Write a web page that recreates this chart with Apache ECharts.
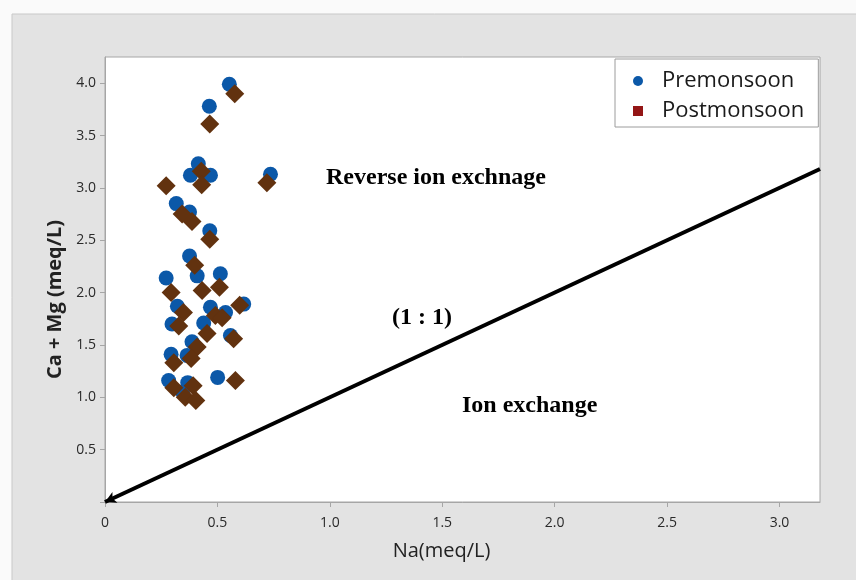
<!DOCTYPE html>
<html>
<head>
<meta charset="utf-8">
<title>Ca + Mg vs Na</title>
<script src="https://cdn.jsdelivr.net/npm/echarts@6/dist/echarts.min.js"></script>
<style>
  html, body { margin: 0; padding: 0; background: #fafafa; }
  #chart { width: 856px; height: 580px; }
</style>
</head>
<body>
<div id="chart"></div>
<script>
// Na (meq/L) and Ca + Mg (meq/L) per sample, premonsoon season
const preNa   = [0.553, 0.464, 0.415, 0.380, 0.469, 0.736, 0.317, 0.376, 0.466, 0.376,
                 0.410, 0.272, 0.513, 0.322, 0.469, 0.536, 0.617, 0.298, 0.439, 0.558,
                 0.387, 0.294, 0.365, 0.283, 0.368, 0.501, 0.345];
const preCaMg = [3.99, 3.78, 3.23, 3.12, 3.12, 3.13, 2.85, 2.77, 2.59, 2.35,
                 2.16, 2.14, 2.18, 1.87, 1.86, 1.81, 1.89, 1.70, 1.71, 1.59,
                 1.53, 1.41, 1.40, 1.16, 1.14, 1.19, 1.05];

// Same samples, postmonsoon season
const postNa   = [0.577, 0.466, 0.272, 0.428, 0.430, 0.720, 0.343, 0.387, 0.466, 0.399,
                  0.294, 0.432, 0.509, 0.349, 0.491, 0.521, 0.599, 0.328, 0.454, 0.572,
                  0.410, 0.306, 0.383, 0.306, 0.392, 0.357, 0.404, 0.580];
const postCaMg = [3.90, 3.61, 3.02, 3.16, 3.03, 3.05, 2.75, 2.68, 2.51, 2.26,
                  2.00, 2.02, 2.05, 1.81, 1.78, 1.76, 1.88, 1.68, 1.61, 1.56,
                  1.48, 1.33, 1.37, 1.09, 1.11, 1.00, 0.97, 1.16];

// Axis ranges and the 1:1 reference line
const xRange = [0, 3.18];
const yRange = [0, 4.25];
const tickStep = 0.5;
const oneToOne = [[0, 0], [3.18, 3.18]];

const seriesNames = ['Premonsoon', 'Postmonsoon'];

const zip = (xs, ys) => xs.map((x, i) => [x, ys[i]]);
const tickFmt = v => {
  if (Math.abs(v / tickStep - Math.round(v / tickStep)) > 1e-6) return '';
  return v === 0 ? '0' : v.toFixed(1);
};

const chart = echarts.init(document.getElementById('chart'), null, { renderer: 'canvas' });

const sans = "'Open Sans', 'Noto Sans', sans-serif";
const serif = "'Liberation Serif', 'DejaVu Serif', serif";
const tickFont = { fontFamily: sans, fontSize: 14, color: '#2a2a2a' };
const noteStyle = { fontFamily: serif, fontWeight: 'bold', fontSize: 24, fill: '#000', verticalAlign: 'middle' };

chart.setOption({
  backgroundColor: '#fafafa',
  animation: false,
  graphic: [
    { type: 'rect', z: -100, shape: { x: 12, y: 14, width: 860, height: 580 },
      style: { fill: '#e3e3e3', stroke: '#c9c9c9', lineWidth: 1 } },
    { type: 'text', z: 50, x: 326, y: 178, style: Object.assign({ text: 'Reverse ion exchnage' }, noteStyle) },
    { type: 'text', z: 50, x: 392, y: 318, style: Object.assign({ text: '(1 : 1)' }, noteStyle) },
    { type: 'text', z: 50, x: 462, y: 406, style: Object.assign({ text: 'Ion exchange' }, noteStyle) }
  ],
  grid: {
    left: 105, right: 36, top: 57, bottom: 78,
    show: true, backgroundColor: '#ffffff', borderColor: '#a6a6a6', borderWidth: 1
  },
  legend: {
    orient: 'vertical',
    left: 615, top: 59,
    padding: [11, 14, 5, 18],
    backgroundColor: '#ffffff',
    borderColor: '#9c9c9c',
    borderWidth: 1,
    itemWidth: 10, itemHeight: 10,
    itemGap: 8,
    textStyle: { fontFamily: sans, fontSize: 22, color: '#1a1a1a', padding: [0, 0, 0, 14] },
    data: [
      { name: seriesNames[0], icon: 'circle', itemStyle: { color: '#0b58a8' } },
      { name: seriesNames[1], icon: 'rect', itemStyle: { color: '#941616' } }
    ]
  },
  xAxis: {
    type: 'value',
    min: xRange[0], max: xRange[1], interval: tickStep,
    name: 'Na(meq/L)', nameLocation: 'middle', nameGap: 39,
    nameTextStyle: { fontFamily: sans, fontSize: 20, color: '#222', padding: [0, 42, 0, 0] },
    axisLine: { show: true, lineStyle: { color: '#a6a6a6', width: 1 } },
    axisTick: { show: true, inside: false, length: 5, lineStyle: { color: '#a6a6a6' } },
    axisLabel: Object.assign({ margin: 14, formatter: tickFmt, showMaxLabel: false }, tickFont),
    splitLine: { show: false }
  },
  yAxis: {
    type: 'value',
    min: yRange[0], max: yRange[1], interval: tickStep,
    name: 'Ca + Mg (meq/L)', nameLocation: 'middle', nameGap: 39,
    nameTextStyle: { fontFamily: sans, fontSize: 20, fontWeight: 'bold', color: '#222', padding: [0, 40, 0, 0] },
    axisLine: { show: true, lineStyle: { color: '#a6a6a6', width: 1 } },
    axisTick: { show: true, inside: false, length: 5, lineStyle: { color: '#a6a6a6' } },
    axisLabel: Object.assign({ margin: 9, showMaxLabel: false,
      formatter: v => (v === 0 ? '' : tickFmt(v)) }, tickFont),
    splitLine: { show: false }
  },
  series: [
    {
      type: 'line', name: 'ratio', data: [], silent: true, z: 3,
      markLine: {
        silent: true, animation: false,
        symbol: ['arrow', 'none'], symbolSize: [9, 11],
        label: { show: false },
        lineStyle: { color: '#000', width: 4, type: 'solid' },
        emphasis: { disabled: true },
        data: [[{ coord: oneToOne[0] }, { coord: oneToOne[1] }]]
      }
    },
    {
      type: 'scatter', name: seriesNames[0], z: 4,
      symbol: 'circle', symbolSize: 15,
      itemStyle: { color: '#0b58a8', opacity: 1 },
      data: zip(preNa, preCaMg)
    },
    {
      type: 'scatter', name: seriesNames[1], z: 5,
      symbol: 'diamond', symbolSize: 19,
      itemStyle: { color: '#62320f', opacity: 1 },
      data: zip(postNa, postCaMg)
    }
  ]
});
</script>
</body>
</html>
